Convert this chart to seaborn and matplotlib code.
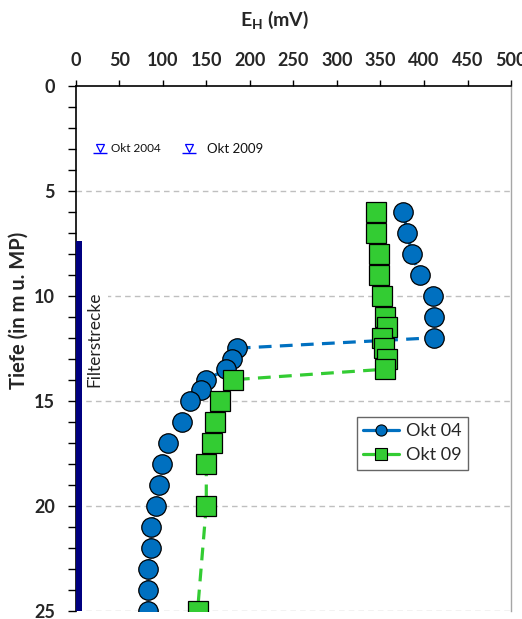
import matplotlib
matplotlib.use("Agg")
import matplotlib.pyplot as plt
from matplotlib.lines import Line2D
import seaborn as sns

# Redox profile, Okt 2004 vs Okt 2009
depth_04 = [6, 7, 8, 9, 10, 11, 12, 12.5, 13, 13.5, 14, 14.5, 15, 16, 17, 18, 19, 20, 21, 22, 23, 24, 25]
eh_04 = [376, 381, 386, 395, 410, 411, 412, 185, 180, 173, 150, 144, 131, 122, 106, 99, 96, 92, 87, 86, 83, 83, 83]

depth_09 = [6, 7, 8, 9, 10, 11, 11.5, 12, 12.5, 13, 13.5, 14, 15, 16, 17, 18, 20, 25]
eh_09 = [345, 345, 348, 348, 352, 355, 357, 352, 354, 357, 355, 181, 166, 160, 156, 150, 150, 140]

series_labels = ["Okt 04", "Okt 09"]
water_labels = ["Okt 2004", "Okt 2009"]
filter_top, filter_bottom = 7.4, 25

x_ticks = list(range(0, 501, 50))
y_ticks = [0, 5, 10, 15, 20, 25]

blue = "#0070C0"
green = "#33CC33"

sns.set_style("white")
plt.rcParams["font.family"] = ["Lato", "DejaVu Sans"]
plt.rcParams["mathtext.fontset"] = "custom"
plt.rcParams["mathtext.rm"] = "Lato"
plt.rcParams["mathtext.bf"] = "Lato:bold"

fig = plt.figure(figsize=(5.22, 6.19), dpi=100)
ax = fig.add_axes([0.145, 0.0134, 0.834, 0.8481])

# grid lines behind everything
for d in y_ticks[1:]:
    ax.axhline(d, color="#BFBFBF", lw=1, ls=(0, (4, 3)), zorder=0)

# filter section bar + label
ax.fill_betweenx([filter_top, filter_bottom], 0, 7, color="#000080", lw=0, zorder=3)
ax.text(22, 12.05, "Filterstrecke", rotation=90, ha="center", va="center",
        fontsize=12.5, color="#222222", zorder=2,
        bbox=dict(facecolor="white", edgecolor="none", pad=4))

# water level symbols
wl_x = [28, 130]
wl_text_x = [40, 151]
wl_depth = 2.95
for i in range(2):
    ax.plot(wl_x[i], wl_depth, marker="v", ms=5.5, mfc="white", mec="blue", mew=0.9, zorder=4)
    ax.plot(wl_x[i], wl_depth + 0.27, marker="_", ms=10, mec="blue", mew=1.0, zorder=4)
ax.text(wl_text_x[0], wl_depth + 0.05, water_labels[0], fontsize=8.5, va="center", color="#111111")
ax.text(wl_text_x[1], wl_depth + 0.05, water_labels[1], fontsize=9.5, va="center", color="#111111")

sns.lineplot(x=eh_04, y=depth_04, sort=False, estimator=None, ax=ax,
             color=blue, lw=2.3, linestyle=(0, (4, 2.6)),
             marker="o", markersize=14, markerfacecolor=blue,
             markeredgecolor="black", markeredgewidth=0.9, zorder=5)
sns.lineplot(x=eh_09, y=depth_09, sort=False, estimator=None, ax=ax,
             color=green, lw=2.3, linestyle=(0, (4, 2.6)),
             marker="s", markersize=14, markerfacecolor=green,
             markeredgecolor="black", markeredgewidth=0.9, zorder=6)

ax.set_xlim(0, 500)
ax.set_ylim(25, 0)
ax.set_xticks(x_ticks)
ax.set_yticks(y_ticks)
ax.set_yticks(range(0, 26), minor=True)

ax.xaxis.tick_top()
ax.xaxis.set_label_position("top")
ax.tick_params(axis="x", which="major", direction="out", length=4, width=1,
               pad=8, labelsize=13, color="black")
ax.tick_params(axis="y", which="both", direction="out", length=6, width=1,
               pad=9, labelsize=13, color="black", left=True)
for lab in ax.get_xticklabels() + ax.get_yticklabels():
    lab.set_fontweight("bold")

ax.set_xlabel(r"$\mathbf{E_H}$ (mV)", fontsize=14, fontweight="bold")
ax.xaxis.label.set_va("center")
ax.xaxis.set_label_coords(0.456, 1.125)
ax.set_ylabel("Tiefe (in m u. MP)", fontsize=14.5, fontweight="bold")
ax.yaxis.label.set_va("center")
ax.yaxis.set_label_coords(-0.132, 0.572)

for side in ["left", "top"]:
    ax.spines[side].set_color("black")
    ax.spines[side].set_linewidth(1.2)
ax.spines["right"].set_color("#A6A6A6")
ax.spines["right"].set_linewidth(1)
ax.spines["bottom"].set_visible(False)

handles = [
    Line2D([], [], color=blue, lw=2.3, marker="o", ms=8, mfc=blue, mec="black", mew=0.8),
    Line2D([], [], color=green, lw=2.3, marker="s", ms=8, mfc=green, mec="black", mew=0.8),
]
leg = ax.legend(handles, series_labels, loc="upper left", bbox_to_anchor=(0.6455, 0.369),
                fontsize=13, frameon=True, fancybox=False, handlelength=2.0,
                borderpad=0.35, labelspacing=0.45, handletextpad=0.4, borderaxespad=0)
leg.get_frame().set_edgecolor("#404040")
leg.get_frame().set_linewidth(1)

fig.savefig("out.png", dpi=100)
